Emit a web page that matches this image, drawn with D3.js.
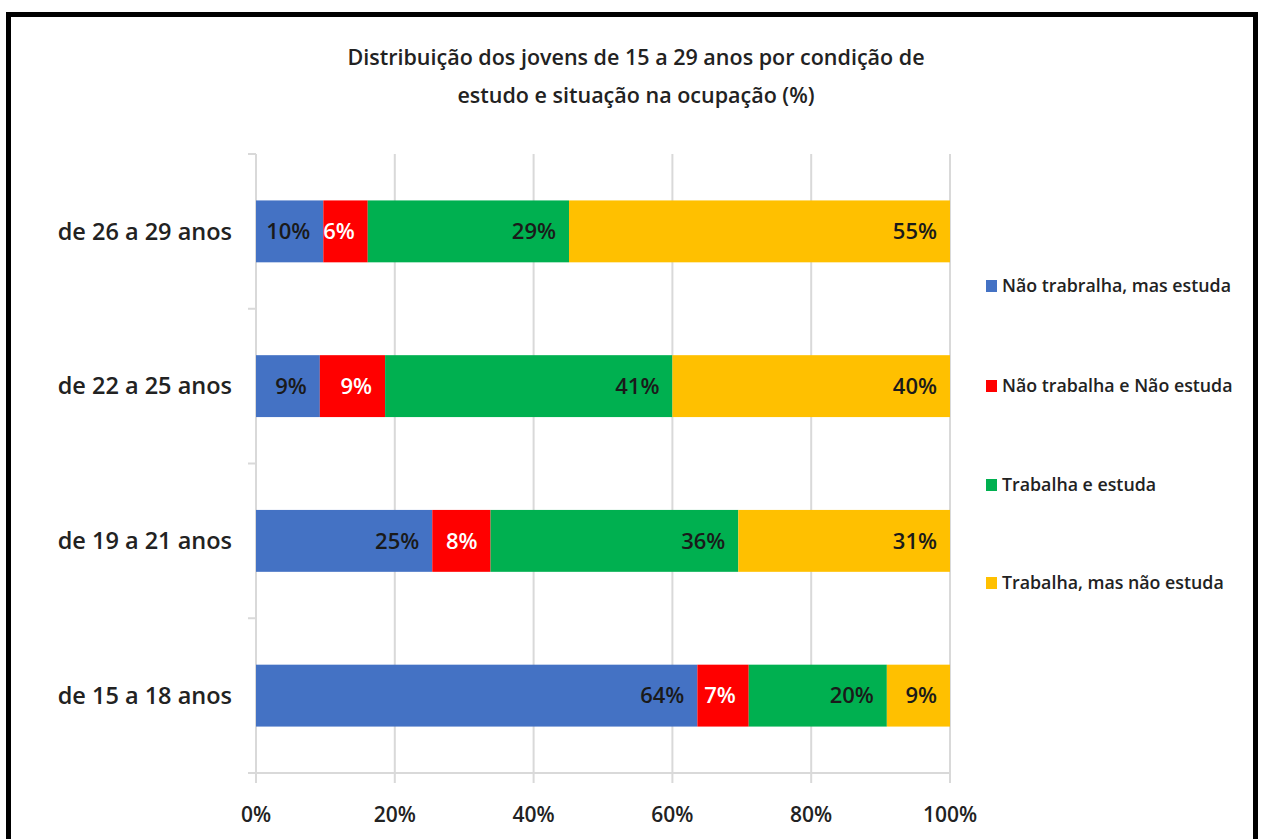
<!DOCTYPE html>
<html>
<head>
<meta charset="utf-8">
<script src="https://cdn.jsdelivr.net/npm/d3@7"></script>
<style>
  html, body { margin: 0; padding: 0; background: #fff; }
  svg { display: block; }
  text { font-family: "Open Sans", "Noto Sans", sans-serif; }
</style>
</head>
<body>
<svg id="chart" width="1261" height="839"></svg>
<script>
const titleLines = ["Distribuição dos jovens de 15 a 29 anos por condição  de", "estudo e situação na ocupação  (%)"];
const categories = ["de 26 a 29 anos", "de 22 a 25 anos", "de 19 a 21 anos", "de 15 a 18 anos"];
const seriesNames = ["Não trabralha, mas estuda", "Não trabalha e Não estuda", "Trabalha e estuda", "Trabalha, mas não estuda"];
const seriesColors = ["#4472C4", "#FF0000", "#00B050", "#FFC000"];
const labelColors = ["#1a1a1a", "#ffffff", "#1a1a1a", "#1a1a1a"];
const naoTrabalhaEstuda = [9.7, 9.2, 25.4, 63.6];
const naoTrabalhaNaoEstuda = [6.4, 9.4, 8.4, 7.4];
const trabalhaEstuda = [29.0, 41.4, 35.7, 19.9];
const trabalhaNaoEstuda = [54.9, 40.0, 30.5, 9.1];
const xTicks = [0, 20, 40, 60, 80, 100];

const seriesValues = [naoTrabalhaEstuda, naoTrabalhaNaoEstuda, trabalhaEstuda, trabalhaNaoEstuda];
const rows = categories.map((c, i) => {
  const r = { cat: c };
  seriesNames.forEach((s, j) => r[s] = seriesValues[j][i]);
  return r;
});

const svg = d3.select("#chart");

// Frame
svg.append("rect").attr("x", 8.5).attr("y", 14.5).attr("width", 1247).attr("height", 900)
  .attr("fill", "none").attr("stroke", "#000").attr("stroke-width", 5);

const x0 = 256, x1 = 950, yTop = 154, yBot = 773;
const x = d3.scaleLinear().domain([0, 100]).range([x0, x1]);
const y = d3.scaleBand().domain(categories).range([yTop, yBot]).paddingInner(0.6).paddingOuter(0.3);

// Title
svg.append("g").selectAll("text").data(titleLines).join("text")
  .attr("x", 636).attr("y", (d, i) => 57 + i * 38).attr("dy", "0.35em")
  .attr("text-anchor", "middle").attr("font-size", 21.5).attr("font-weight", 600)
  .attr("fill", "#222").text(d => d);

// Gridlines
svg.append("g").selectAll("line").data(xTicks).join("line")
  .attr("x1", d => x(d)).attr("x2", d => x(d)).attr("y1", yTop).attr("y2", yBot + 10)
  .attr("stroke", "#d9d9d9").attr("stroke-width", 2);

// x axis line
svg.append("line").attr("x1", x0 - 8).attr("x2", x1).attr("y1", yBot).attr("y2", yBot)
  .attr("stroke", "#d9d9d9").attr("stroke-width", 2);

// y axis category ticks
const bounds = d3.range(categories.length + 1).map(i => yTop + i * (yBot - yTop) / categories.length);
svg.append("g").selectAll("line").data(bounds).join("line")
  .attr("x1", x0 - 8).attr("x2", x0).attr("y1", d => d).attr("y2", d => d)
  .attr("stroke", "#d9d9d9").attr("stroke-width", 2);

// x tick labels
svg.append("g").selectAll("text").data(xTicks).join("text")
  .attr("x", d => x(d)).attr("y", 815).attr("dy", "0.35em")
  .attr("text-anchor", "middle").attr("font-size", 21).attr("font-weight", 600)
  .attr("fill", "#222").text(d => d + "%");

// category labels
svg.append("g").selectAll("text").data(categories).join("text")
  .attr("x", 232).attr("y", d => y(d) + y.bandwidth() / 2).attr("dy", "0.35em")
  .attr("text-anchor", "end").attr("font-size", 23.5).attr("font-weight", 600)
  .attr("fill", "#222").text(d => d);

// stacked bars
const stack = d3.stack().keys(seriesNames)(rows);
const layers = svg.append("g").selectAll("g").data(stack).join("g")
  .attr("fill", (d, i) => seriesColors[i]);
layers.selectAll("rect").data(d => d).join("rect")
  .attr("x", d => x(d[0])).attr("width", d => x(d[1]) - x(d[0]))
  .attr("y", d => y(d.data.cat)).attr("height", y.bandwidth());

// data labels
const lbl = svg.append("g").selectAll("g").data(stack).join("g")
  .attr("fill", (d, i) => labelColors[i]);
lbl.selectAll("text").data(d => d).join("text")
  .attr("x", d => x(d[1]) - 13).attr("y", d => y(d.data.cat) + y.bandwidth() / 2).attr("dy", "0.35em")
  .attr("text-anchor", "end").attr("font-size", 22).attr("font-weight", 600)
  .text(d => Math.round(d[1] - d[0]) + "%");

// legend
const legendY = [286, 386, 485, 583];
const leg = svg.append("g").selectAll("g").data(seriesNames).join("g")
  .attr("transform", (d, i) => `translate(986, ${legendY[i]})`);
leg.append("rect").attr("x", 0).attr("y", -6).attr("width", 11).attr("height", 12)
  .attr("fill", (d, i) => seriesColors[i]);
leg.append("text").attr("x", 16).attr("y", 0).attr("dy", "0.35em")
  .attr("font-size", 17.8).attr("font-weight", 600).attr("fill", "#222").text(d => d);
</script>
</body>
</html>
